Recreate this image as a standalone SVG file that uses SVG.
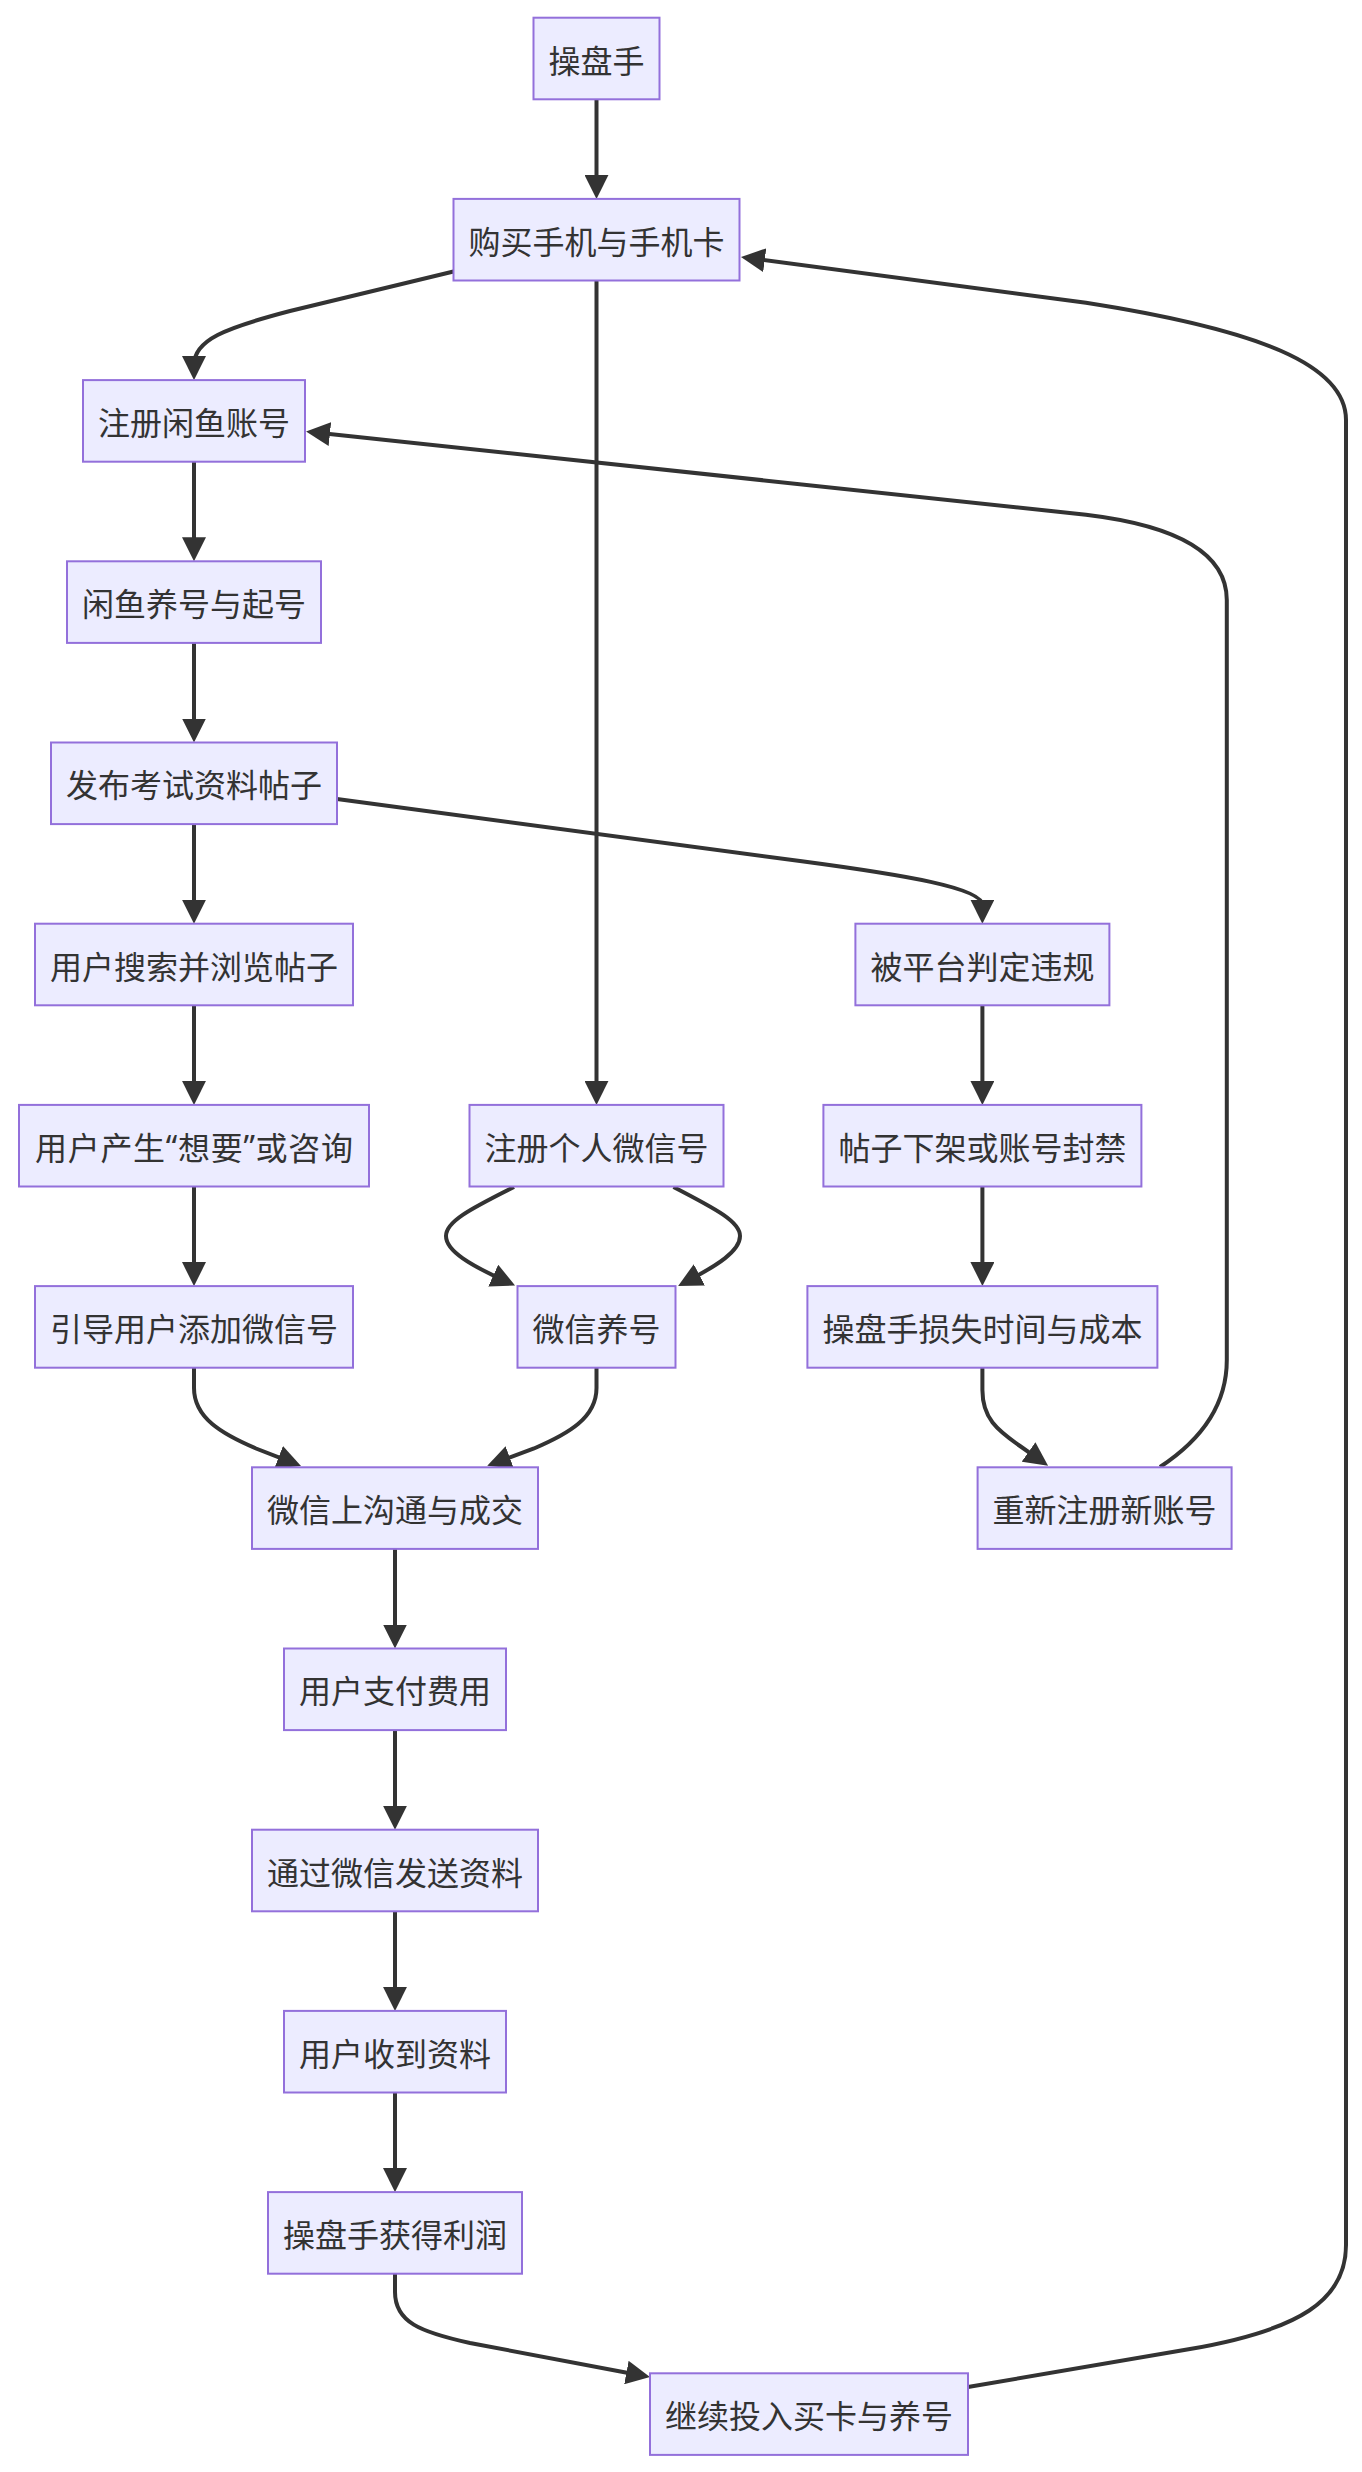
<svg xmlns="http://www.w3.org/2000/svg" width="1362" height="2472" viewBox="0 0 1362 2472">
<style>
.node rect{fill:#ECECFF;stroke:#9370DB;stroke-width:2}
.node text{font-family:"Noto Sans CJK SC","Noto Sans",sans-serif;font-size:32px;fill:#333333;text-anchor:middle;dominant-baseline:central}
.node tspan.q{font-family:"Noto Sans",sans-serif}
.edges path{fill:none;stroke:#333333;stroke-width:4;marker-end:url(#arrow)}
</style>
<defs>
<marker id="arrow" viewBox="0 0 10 10" refX="7" refY="5" markerUnits="userSpaceOnUse" markerWidth="24" markerHeight="24" orient="auto">
<path d="M0,0 L10,5 L0,10 z" fill="#333333"/>
</marker>
</defs>
<rect x="0" y="0" width="1362" height="2472" fill="#ffffff"/>
<g class="edges" id="connectors">
<path d="M596.5,99.3 L596.5,191.7"/>
<path d="M453.5,271.5 L290,311 C225,328 194,340 194,365 L194,372.9"/>
<path d="M596.5,280.5 L596.5,1097.7"/>
<path d="M194,461.7 L194,554.1"/>
<path d="M194,642.9 L194,735.3"/>
<path d="M194,824.1 L194,916.5"/>
<path d="M337,799 L800,861 C905,875 982.4,888 982.4,905 L982.4,916.5"/>
<path d="M194,1005.3 L194,1097.7"/>
<path d="M194,1186.5 L194,1278.9"/>
<path d="M514,1187 C468,1210 446,1222 446,1236 C446,1251 470,1265 508.5,1282.6"/>
<path d="M673.5,1187 C718,1210 740,1222 740,1236 C740,1251 718,1265 684.5,1282.6"/>
<path d="M982.4,1005.3 L982.4,1097.7"/>
<path d="M982.4,1186.5 L982.4,1278.9"/>
<path d="M194,1367.7 L194,1388 C194,1418 222,1434 256,1448.5 L294.3,1463.3"/>
<path d="M596.5,1367.7 L596.5,1388 C596.5,1418 568,1434 534,1448.5 L494,1463.3"/>
<path d="M982.4,1367.7 L982.4,1390 C982.4,1418 997,1430 1020,1446 L1042.2,1461.7"/>
<path d="M1160,1467 C1195,1444 1226.8,1410 1226.8,1360 L1226.8,600 C1226.8,555 1180,526 1086,514.7 L313.2,432.3"/>
<path d="M395,1548.9 L395,1641.3"/>
<path d="M395,1730.1 L395,1822.5"/>
<path d="M395,1911.3 L395,2003.7"/>
<path d="M395,2092.5 L395,2184.9"/>
<path d="M395,2273.7 L395,2292 C395,2322 420,2332 470,2343 L642.9,2375.7"/>
<path d="M968,2387 L1190,2349 C1300,2330 1346,2300 1346,2245 L1346,420 C1346,365 1260,330 1086,302.7 L748.1,258"/>
</g>
<g class="node" id="n-caopanshou"><rect x="533.5" y="17.7" width="126" height="81.6"/><text x="596.5" y="58.5">操盘手</text></g>
<g class="node" id="n-goumai"><rect x="453.5" y="198.9" width="286" height="81.6"/><text x="596.5" y="239.7">购买手机与手机卡</text></g>
<g class="node" id="n-zhuce-xianyu"><rect x="83" y="380.1" width="222" height="81.6"/><text x="194" y="420.9">注册闲鱼账号</text></g>
<g class="node" id="n-yanghao"><rect x="67" y="561.3" width="254" height="81.6"/><text x="194" y="602.1">闲鱼养号与起号</text></g>
<g class="node" id="n-fabu"><rect x="51" y="742.5" width="286" height="81.6"/><text x="194" y="783.3">发布考试资料帖子</text></g>
<g class="node" id="n-sousuo"><rect x="35" y="923.7" width="318" height="81.6"/><text x="194" y="964.5">用户搜索并浏览帖子</text></g>
<g class="node" id="n-weigui"><rect x="855.4" y="923.7" width="254" height="81.6"/><text x="982.4" y="964.5">被平台判定违规</text></g>
<g class="node" id="n-xiangyao"><rect x="19" y="1104.9" width="350" height="81.6"/><text x="194" y="1145.7" textLength="318" lengthAdjust="spacing">用户产生<tspan class="q">“</tspan>想要<tspan class="q">”</tspan>或咨询</text></g>
<g class="node" id="n-zhuce-weixin"><rect x="469.5" y="1104.9" width="254" height="81.6"/><text x="596.5" y="1145.7">注册个人微信号</text></g>
<g class="node" id="n-xiajia"><rect x="823.4" y="1104.9" width="318" height="81.6"/><text x="982.4" y="1145.7">帖子下架或账号封禁</text></g>
<g class="node" id="n-yindao"><rect x="35" y="1286.1" width="318" height="81.6"/><text x="194" y="1326.9">引导用户添加微信号</text></g>
<g class="node" id="n-weixin-yanghao"><rect x="517.5" y="1286.1" width="158" height="81.6"/><text x="596.5" y="1326.9">微信养号</text></g>
<g class="node" id="n-sunshi"><rect x="807.4" y="1286.1" width="350" height="81.6"/><text x="982.4" y="1326.9">操盘手损失时间与成本</text></g>
<g class="node" id="n-goutong"><rect x="252" y="1467.3" width="286" height="81.6"/><text x="395" y="1508.1">微信上沟通与成交</text></g>
<g class="node" id="n-chongxin"><rect x="977.6" y="1467.3" width="254" height="81.6"/><text x="1104.6" y="1508.1">重新注册新账号</text></g>
<g class="node" id="n-zhifu"><rect x="284" y="1648.5" width="222" height="81.6"/><text x="395" y="1689.3">用户支付费用</text></g>
<g class="node" id="n-fasong"><rect x="252" y="1829.7" width="286" height="81.6"/><text x="395" y="1870.5">通过微信发送资料</text></g>
<g class="node" id="n-shoudao"><rect x="284" y="2010.9" width="222" height="81.6"/><text x="395" y="2051.7">用户收到资料</text></g>
<g class="node" id="n-lirun"><rect x="268" y="2192.1" width="254" height="81.6"/><text x="395" y="2232.9">操盘手获得利润</text></g>
<g class="node" id="n-jixu"><rect x="650" y="2373.3" width="318" height="81.6"/><text x="809" y="2414.1">继续投入买卡与养号</text></g>
</svg>
